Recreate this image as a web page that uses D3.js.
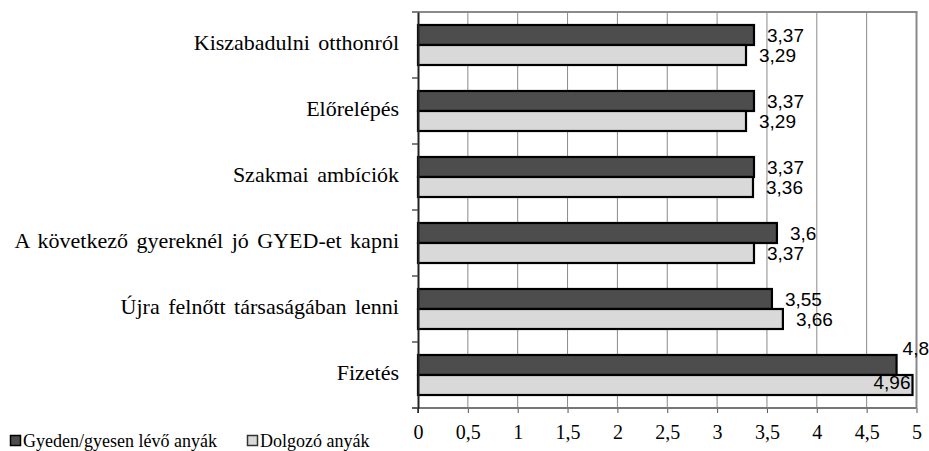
<!DOCTYPE html>
<html>
<head>
<meta charset="utf-8">
<script src="https://cdn.jsdelivr.net/npm/d3@7"></script>
<style>
  body { margin: 0; background: #fff; }
  svg { display: block; }
  .cat { font-family: "Liberation Serif", "Times New Roman", serif; font-size: 22px; word-spacing: 3px; fill: #000; }
  .tick-x text { font-family: "Liberation Serif", "Times New Roman", serif; font-size: 20px; fill: #000; }
  .val { font-family: "Liberation Sans", Arial, sans-serif; font-size: 19px; fill: #000; }
  .legend text { font-family: "Liberation Serif", "Times New Roman", serif; font-size: 18px; fill: #000; }
</style>
</head>
<body>
<svg id="chart" width="929" height="451"></svg>
<script>
// data
var categories = [
  "Kiszabadulni otthonról",
  "Előrelépés",
  "Szakmai ambíciók",
  "A következő gyereknél jó GYED-et kapni",
  "Újra felnőtt társaságában lenni",
  "Fizetés"
];
var seriesNames = ["Gyeden/gyesen lévő anyák", "Dolgozó anyák"];
var gyedValues = [3.37, 3.37, 3.37, 3.6, 3.55, 4.8];
var dolgozoValues = [3.29, 3.29, 3.36, 3.37, 3.66, 4.96];
var xTicks = [0, 0.5, 1, 1.5, 2, 2.5, 3, 3.5, 4, 4.5, 5];
var seriesColors = ["#4d4d4d", "#d9d9d9"];

var svg = d3.select("#chart"),
    width = +svg.attr("width"),
    height = +svg.attr("height");

// plot area edges
var plotLeft = 418, plotRight = 916.5, plotTop = 12, plotBottom = 408;

var x = d3.scaleLinear().domain([0, 5]).range([plotLeft, plotRight]);
var y = d3.scaleBand().domain(categories).range([plotTop, plotBottom]);
var ySeries = d3.scaleBand().domain([0, 1]).range([13, 53]);

var fmt = function(v) { return String(v).replace(".", ","); };

// vertical gridlines
svg.append("g").selectAll("line")
    .data(xTicks.filter(function(d) { return d > 0 && d < 5; }))
  .enter().append("line")
    .attr("x1", function(d) { return x(d); })
    .attr("x2", function(d) { return x(d); })
    .attr("y1", plotTop).attr("y2", plotBottom)
    .attr("stroke", "#8a8a8a").attr("stroke-width", 1);

// top and right frame
svg.append("line")
    .attr("x1", plotLeft).attr("x2", plotRight + 1).attr("y1", plotTop).attr("y2", plotTop)
    .attr("stroke", "#8a8a8a").attr("stroke-width", 2);
svg.append("line")
    .attr("x1", plotRight).attr("x2", plotRight).attr("y1", plotTop).attr("y2", plotBottom)
    .attr("stroke", "#8a8a8a").attr("stroke-width", 2);

// x axis
var xAxis = svg.append("g")
    .attr("class", "tick-x")
    .attr("transform", "translate(0," + plotBottom + ")")
    .call(d3.axisBottom(x).tickValues(xTicks).tickSize(5).tickPadding(12).tickFormat(fmt));
xAxis.select(".domain").remove();
xAxis.selectAll(".tick line").attr("stroke", "#555");
svg.append("line")
    .attr("x1", plotLeft - 6).attr("x2", plotRight).attr("y1", plotBottom).attr("y2", plotBottom)
    .attr("stroke", "#777").attr("stroke-width", 2);

// one row of two bars per category
var rows = categories.map(function(c, i) {
  return [
    {cat: c, s: 0, v: gyedValues[i]},
    {cat: c, s: 1, v: dolgozoValues[i]}
  ];
});

var groups = svg.append("g").selectAll("g")
    .data(rows)
  .enter().append("g")
    .attr("transform", function(d) { return "translate(0," + y(d[0].cat) + ")"; });

groups.selectAll("rect")
    .data(function(d) { return d; })
  .enter().append("rect")
    .attr("x", x(0))
    .attr("y", function(d) { return ySeries(d.s); })
    .attr("width", function(d) { return x(d.v) - x(0); })
    .attr("height", ySeries.bandwidth())
    .attr("fill", function(d) { return seriesColors[d.s]; })
    .attr("stroke", "#000")
    .attr("stroke-width", 2.2);

// value labels, pulled back in when they would run off the right edge
groups.selectAll("text.val")
    .data(function(d) { return d; })
  .enter().append("text")
    .attr("class", "val")
    .attr("dominant-baseline", "central")
    .text(function(d) { return fmt(d.v); })
    .each(function(d) {
      var t = d3.select(this),
          w = this.getComputedTextLength(),
          lx = x(d.v) + 13,
          ly = ySeries(d.s) + ySeries.bandwidth() / 2;
      if (lx + w > width) {
        t.attr("text-anchor", "end");
        if (d.s === 0) { lx = width; ly -= 17; }
        else { lx = x(d.v) - 2; ly -= 3; }
      }
      t.attr("x", lx).attr("y", ly);
    });

// y axis
var yAxis = svg.append("g")
    .attr("transform", "translate(" + plotLeft + ",0)")
    .call(d3.axisLeft(y).tickSize(0).tickFormat(""));
yAxis.select(".domain").attr("stroke", "#222").attr("stroke-width", 2);
svg.append("g").selectAll("line")
    .data(d3.range(categories.length + 1))
  .enter().append("line")
    .attr("x1", plotLeft - 6).attr("x2", plotLeft)
    .attr("y1", function(i) { return plotTop + i * y.step(); })
    .attr("y2", function(i) { return plotTop + i * y.step(); })
    .attr("stroke", "#555").attr("stroke-width", 1.5);
svg.append("line")
    .attr("x1", plotLeft).attr("x2", plotLeft).attr("y1", plotBottom).attr("y2", plotBottom + 5)
    .attr("stroke", "#222").attr("stroke-width", 1.5);

// category labels
svg.append("g").selectAll("text")
    .data(categories)
  .enter().append("text")
    .attr("class", "cat")
    .attr("x", 399)
    .attr("y", function(d) { return y(d) + y.bandwidth() / 2 - 3; })
    .attr("text-anchor", "end")
    .attr("dominant-baseline", "central")
    .text(function(d) { return d; });

// legend
var legendX = [10, 247];
var legend = svg.append("g").attr("class", "legend").selectAll("g")
    .data(seriesNames)
  .enter().append("g")
    .attr("transform", function(d, i) { return "translate(" + legendX[i] + ",435)"; });
legend.append("rect")
    .attr("x", 0.5).attr("y", 0.5)
    .attr("width", 10).attr("height", 10)
    .attr("fill", function(d, i) { return seriesColors[i]; })
    .attr("stroke", function(d, i) { return i === 0 ? "#000" : "#333"; })
    .attr("stroke-width", 1.5);
legend.append("text")
    .attr("x", 13)
    .attr("y", 12)
    .text(function(d) { return d; });
</script>
</body>
</html>
